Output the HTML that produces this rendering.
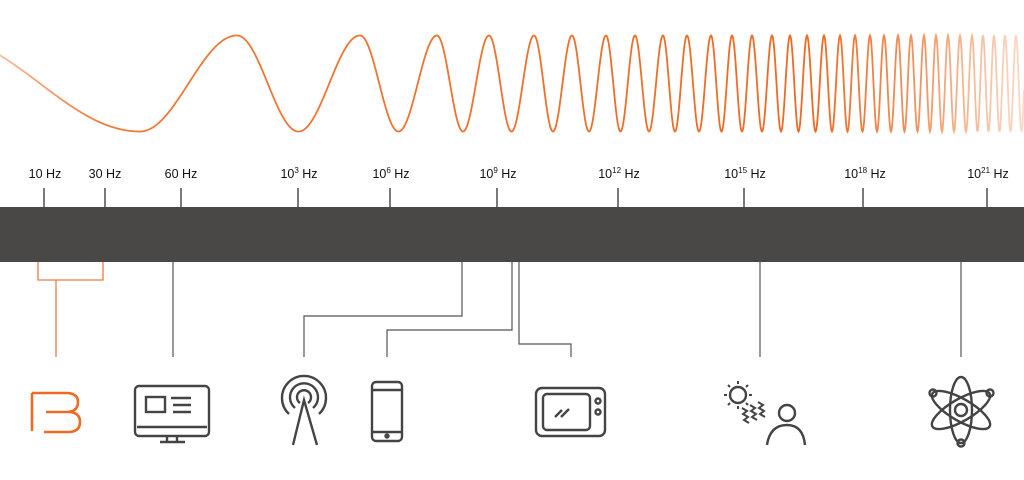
<!DOCTYPE html>
<html><head><meta charset="utf-8"><style>
html,body{margin:0;padding:0;background:#fff;width:1024px;height:480px;overflow:hidden}
svg{display:block}
text{font-family:"Liberation Sans",sans-serif;font-size:12.5px;fill:#111}
</style></head><body>
<svg id="s" width="1024" height="480" viewBox="0 0 1024 480">
<defs>
<linearGradient id="fade" x1="0" x2="1024" gradientUnits="userSpaceOnUse">
<stop offset="0" stop-color="#f07a3a" stop-opacity="0.5"/>
<stop offset="0.1" stop-color="#f07a3a"/>
<stop offset="0.8" stop-color="#ee6a22"/>
<stop offset="0.9" stop-color="#ef7a3a" stop-opacity="0.8"/>
<stop offset="1" stop-color="#f4a070" stop-opacity="0.4"/>
</linearGradient>
</defs>
<path id="wave" d="" fill="none" stroke="url(#fade)" stroke-width="1.8"/>
<rect x="0" y="207" width="1024" height="55" fill="#4a4846"/>
<g stroke="#333" stroke-width="1.3">
<line x1="44" y1="188" x2="44" y2="207"/><line x1="105" y1="188" x2="105" y2="207"/>
<line x1="181" y1="188" x2="181" y2="207"/><line x1="298" y1="188" x2="298" y2="207"/>
<line x1="390" y1="188" x2="390" y2="207"/><line x1="497" y1="188" x2="497" y2="207"/>
<line x1="618" y1="188" x2="618" y2="207"/><line x1="744" y1="188" x2="744" y2="207"/>
<line x1="863" y1="188" x2="863" y2="207"/><line x1="987" y1="188" x2="987" y2="207"/>
</g>
<g text-anchor="middle">
<text x="45" y="178">10 Hz</text><text x="105" y="178">30 Hz</text><text x="181" y="178">60 Hz</text>
<text x="299" y="178">10<tspan font-size="8" dy="-5">3</tspan><tspan dy="5"> Hz</tspan></text>
<text x="391" y="178">10<tspan font-size="8" dy="-5">6</tspan><tspan dy="5"> Hz</tspan></text>
<text x="498" y="178">10<tspan font-size="8" dy="-5">9</tspan><tspan dy="5"> Hz</tspan></text>
<text x="619" y="178">10<tspan font-size="8" dy="-5">12</tspan><tspan dy="5"> Hz</tspan></text>
<text x="745" y="178">10<tspan font-size="8" dy="-5">15</tspan><tspan dy="5"> Hz</tspan></text>
<text x="865" y="178">10<tspan font-size="8" dy="-5">18</tspan><tspan dy="5"> Hz</tspan></text>
<text x="988" y="178">10<tspan font-size="8" dy="-5">21</tspan><tspan dy="5"> Hz</tspan></text>
</g>
<g fill="none" stroke="#ee7a40" stroke-width="1.3">
<polyline points="38,262 38,280 103,280 103,262"/><line x1="56" y1="280" x2="56" y2="357"/>
</g>
<g fill="none" stroke="#555" stroke-width="1.2">
<line x1="173" y1="262" x2="173" y2="357"/>
<polyline points="462,262 462,316 304,316 304,357"/>
<polyline points="512,262 512,330 387,330 387,357"/>
<polyline points="519,262 519,344 571,344 571,357"/>
<line x1="760" y1="262" x2="760" y2="357"/>
<line x1="961" y1="262" x2="961" y2="357"/>
</g>
<!-- B icon -->
<path d="M32,393 L32,431 M32,393 L68,393 Q78,394 78,402 Q78,411 68,412 L46,412 M46,412 L70,412 Q80,413 80,422 Q80,431 70,432 L44,432" fill="none" stroke="#ee6a22" stroke-width="2.6"/>
<g fill="none" stroke="#444" stroke-width="2.4">
<!-- monitor -->
<rect x="135" y="386" width="74" height="50" rx="4"/>
<line x1="137" y1="427" x2="207" y2="427"/>
<rect x="146" y="397" width="19" height="15"/>
<line x1="171" y1="398" x2="191" y2="398"/><line x1="173" y1="405" x2="191" y2="405"/><line x1="173" y1="412" x2="191" y2="412"/>
<line x1="167" y1="436" x2="167" y2="441"/><line x1="177" y1="436" x2="177" y2="441"/><line x1="160" y1="442" x2="185" y2="442"/>
<!-- antenna -->
<path d="M289,414 A22,22 0 1 1 319,414"/>
<path d="M295,408 A14,14 0 1 1 313,408"/>
<path d="M300,403 A7,7 0 1 1 308,403"/>
<path d="M293,445 L304,400 L317,445"/>
<!-- phone -->
<rect x="372" y="382" width="30" height="59" rx="4"/>
<line x1="373" y1="390" x2="401" y2="390"/><line x1="373" y1="432" x2="401" y2="432"/>
<circle cx="387" cy="436" r="1.5"/>
<!-- tv -->
<rect x="536" y="388" width="69" height="48" rx="6"/>
<rect x="543" y="394" width="47" height="36" rx="4"/>
<circle cx="598" cy="401" r="2.5"/><circle cx="598" cy="412" r="2.5"/>
<line x1="555" y1="417" x2="562" y2="410"/><line x1="561" y1="417" x2="569" y2="409"/>
<!-- sun/person -->
<circle cx="738" cy="395" r="8"/>
<g stroke-width="2"><line x1="738" y1="381" x2="738" y2="384"/><line x1="738" y1="406" x2="738" y2="409"/><line x1="724" y1="395" x2="727" y2="395"/><line x1="749" y1="395" x2="752" y2="395"/><line x1="728" y1="385" x2="730" y2="387"/><line x1="746" y1="403" x2="748" y2="405"/><line x1="748" y1="385" x2="746" y2="387"/><line x1="728" y1="405" x2="730" y2="403"/></g>
<path d="M742,408 l5,3 -4,3 5,3 -4,3 5,3" stroke-width="2"/>
<path d="M750,405 l5,3 -4,3 5,3 -4,3 5,3" stroke-width="2"/>
<path d="M758,402 l5,3 -4,3 5,3 -4,3 5,3" stroke-width="2"/>
<circle cx="787" cy="413" r="8"/>
<path d="M767,445 Q770,425 787,425 Q803,425 805,445"/>
<!-- atom -->
<ellipse cx="961" cy="410" rx="11" ry="33"/>
<ellipse cx="961" cy="410" rx="11" ry="33" transform="rotate(60 961 410)"/>
<ellipse cx="961" cy="410" rx="11" ry="33" transform="rotate(-60 961 410)"/>
<circle cx="961" cy="410" r="6"/>
<circle cx="933" cy="393" r="3.5"/><circle cx="990" cy="393" r="3.5"/><circle cx="961" cy="443" r="3.5"/>
</g>
</svg>
<script>
var P=[[0,-5.34],[140,-Math.PI]];
var pk=[237,360,437,489,534,572,606,635,663,687,711,732,752,772,790,807,824,840,855,870,884,898,911,924,936,948,960,972,983,994,1005,1016,1027];
pk.forEach(function(x,i){P.push([x,2*Math.PI*i]);});
function ph(x){for(var i=1;i<P.length;i++){if(x<=P[i][0]){var a=P[i-1],b=P[i];return a[1]+(b[1]-a[1])*(x-a[0])/(b[0]-a[0]);}}return P[P.length-1][1];}
var d="";for(var x=0;x<=1024;x+=0.5){var y=83.5-48*Math.cos(ph(x));d+=(x?"L":"M")+x+","+y.toFixed(2);}
document.getElementById("wave").setAttribute("d",d);
</script>
</body></html>
